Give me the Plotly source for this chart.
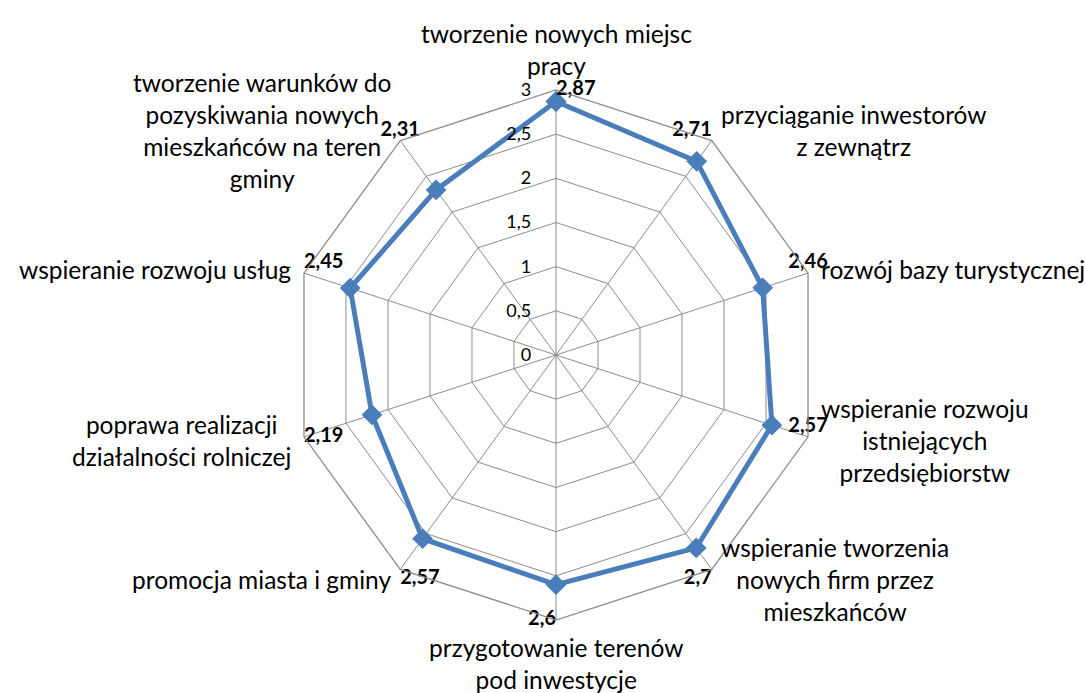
import math
import plotly.graph_objects as go

categories = [
    "tworzenie nowych miejsc<br>pracy",
    "przyciąganie inwestorów<br>z zewnątrz",
    "rozwój bazy turystycznej",
    "wspieranie rozwoju<br>istniejących<br>przedsiębiorstw",
    "wspieranie tworzenia<br>nowych firm przez<br>mieszkańców",
    "przygotowanie terenów<br>pod inwestycje",
    "promocja miasta i gminy",
    "poprawa realizacji<br>działalności rolniczej",
    "wspieranie rozwoju usług",
    "tworzenie warunków do<br>pozyskiwania nowych<br>mieszkańców na teren<br>gminy",
]
values = [2.87, 2.71, 2.46, 2.57, 2.7, 2.6, 2.57, 2.19, 2.45, 2.31]
value_labels = ["2,87", "2,71", "2,46", "2,57", "2,7", "2,6", "2,57", "2,19", "2,45", "2,31"]
radial_ticks = [0, 0.5, 1, 1.5, 2, 2.5, 3]
radial_tick_text = ["0", "0,5", "1", "1,5", "2", "2,5", "3"]
label_positions = ["middle right", "top left", "top center", "top center", "bottom left",
                   "middle left", "bottom right", "middle right", "top right", "top center"]

FONT = "Lato"
BLUE = "#4A7EBB"
GRID = "#8C8C8C"
W, H = 1085, 693

fig = go.Figure()
fig.add_trace(go.Scatterpolar(
    r=values + values[:1],
    theta=categories + categories[:1],
    mode="lines+markers",
    line=dict(color=BLUE, width=5),
    marker=dict(symbol="diamond", size=16, color=BLUE),
    showlegend=False,
    hoverinfo="skip",
))
fig.add_trace(go.Scatterpolar(
    r=[radial_ticks[-1]] * len(categories),
    theta=categories,
    mode="text",
    text=value_labels,
    textposition=label_positions,
    textfont=dict(family=FONT, size=20, color="black", weight="bold"),
    cliponaxis=False,
    showlegend=False,
    hoverinfo="skip",
))

# polar area: centre (cx, cy), outer radius R in pixels
cx, cy, R = 556, 355, 265

# category labels placed just outside each outer vertex, Excel-style (centred text)
PAD = 12
annotations = []
n = len(categories)
for i, name in enumerate(categories):
    ang = 2 * math.pi * i / n
    s, c = math.sin(ang), math.cos(ang)
    vx, vy = cx + R * s, cy - R * c
    ax_, ay_ = vx + PAD * s, vy - PAD * c
    if s > 0.1:
        xa, ya = "left", "middle"
    elif s < -0.1:
        xa, ya = "right", "middle"
    else:
        xa = "center"
        ya = "bottom" if c > 0 else "top"
        ay_ = vy - (8 if c > 0 else -11)
    annotations.append(dict(
        x=ax_ / W, y=1 - ay_ / H, xref="paper", yref="paper",
        text=name, showarrow=False, align="center",
        xanchor=xa, yanchor=ya,
        font=dict(family=FONT, size=24.5, color="black"),
    ))

fig.update_layout(
    width=W, height=H,
    paper_bgcolor="white",
    margin=dict(l=0, r=0, t=0, b=0, autoexpand=False),
    font=dict(family=FONT, color="black"),
    annotations=annotations,
    polar=dict(
        domain=dict(x=[(cx - R) / W, (cx + R) / W],
                    y=[(H - cy - R) / H, (H - cy + R) / H]),
        bgcolor="white",
        gridshape="linear",
        radialaxis=dict(
            range=[0, 3],
            tickvals=radial_ticks,
            ticktext=radial_tick_text,
            angle=90,
            tickangle=90,
            side="counterclockwise",
            showline=False,
            gridcolor=GRID,
            gridwidth=1.3,
            ticks="outside",
            ticklen=18,
            tickcolor="rgba(0,0,0,0)",
            tickfont=dict(family=FONT, size=18, color="black"),
        ),
        angularaxis=dict(
            direction="clockwise",
            rotation=90,
            showline=True,
            linecolor=GRID,
            linewidth=1.3,
            gridcolor=GRID,
            gridwidth=1.3,
            ticks="",
            showticklabels=False,
        ),
    ),
)

fig.write_html("out.html", config={"displayModeBar": False},
               post_script="document.body.style.margin='0';")
